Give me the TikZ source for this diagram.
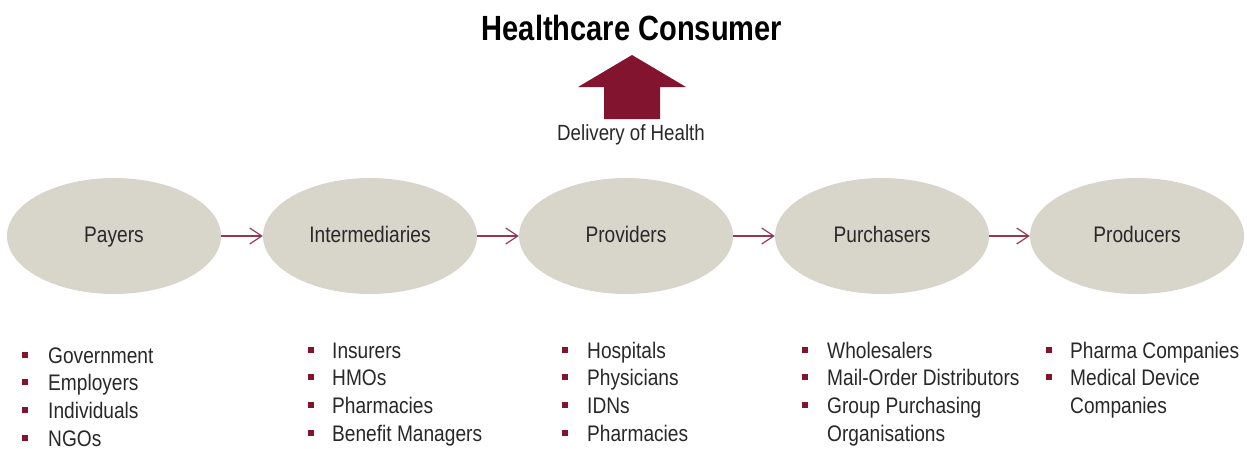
\documentclass[tikz,border=0pt]{standalone}
\usepackage{fontspec}
\usepackage{graphicx}
\setmainfont{Liberation Sans}
\usetikzlibrary{arrows.meta,shapes.geometric}
\definecolor{maroon}{RGB}{130,20,48}
\definecolor{ellfill}{RGB}{216,214,203}
\definecolor{txt}{RGB}{40,40,40}
\newcommand\nx[1]{\scalebox{0.85}[1]{#1}}
\tikzset{
  stage/.style={ellipse, fill=ellfill, minimum width=214pt, minimum height=116pt,
    inner sep=0pt, text height=16pt, text depth=4pt,
    font=\fontsize{22.5}{27}\selectfont, text=txt},
  flow/.style={draw=maroon!85, line width=1.2pt,
    -{Straight Barb[length=12pt,width=16pt,line width=1.2pt]}},
  item/.style={anchor=base west, inner sep=0pt, font=\fontsize{22.5}{27}\selectfont, text=txt},
  bul/.style={fill=maroon, minimum size=6pt, inner sep=0pt}
}
\begin{document}
\begin{tikzpicture}[x=1pt,y=-1pt]
\useasboundingbox (0,0) rectangle (1247,448);

% title and big arrow
\node[anchor=base, inner sep=0pt, font=\fontsize{35}{40}\selectfont\bfseries] (title) at (632,40)
  {\scalebox{0.83}[1]{Healthcare Consumer}};
\fill[maroon] (578,87) -- (632,55) -- (686,87) -- (660,87) -- (660,119) -- (604,119) -- (604,87) -- cycle;
\node[anchor=base, inner sep=0pt, font=\fontsize{22}{26}\selectfont, text=txt] (deliv) at (631,140)
  {\nx{Delivery of Health}};

% stages
\node[stage] (pay) at (114,236) {\nx{Payers}};
\node[stage] (int) at (370,236) {\nx{Intermediaries}};
\node[stage] (pro) at (626,236) {\nx{Providers}};
\node[stage] (pur) at (882,236) {\nx{Purchasers}};
\node[stage] (prd) at (1137,236) {\nx{Producers}};

\draw[flow] (pay.east) -- (int.west);
\draw[flow] (int.east) -- (pro.west);
\draw[flow] (pro.east) -- (pur.west);
\draw[flow] (pur.east) -- (prd.west);

% lists
\foreach \t [count=\i] in {Government,Employers,Individuals,NGOs} {
  \node[bul] (payb\i) at (25,{363+(\i-1)*27.7-8.5}) {};
  \node[item] (payt\i) at (48,{363+(\i-1)*27.7}) {\nx{\t}};
}
\foreach \t [count=\i] in {Insurers,HMOs,Pharmacies,Benefit Managers} {
  \node[bul] (intb\i) at (311,{358+(\i-1)*27.7-8.5}) {};
  \node[item] (intt\i) at (332,{358+(\i-1)*27.7}) {\nx{\t}};
}
\foreach \t [count=\i] in {Hospitals,Physicians,IDNs,Pharmacies} {
  \node[bul] (prob\i) at (565,{358+(\i-1)*27.7-8.5}) {};
  \node[item] (prot\i) at (587,{358+(\i-1)*27.7}) {\nx{\t}};
}
\foreach \t [count=\i] in {Wholesalers,Mail-Order Distributors,Group Purchasing} {
  \node[bul] (purb\i) at (805,{358+(\i-1)*27.7-8.5}) {};
  \node[item] (purt\i) at (827,{358+(\i-1)*27.7}) {\nx{\t}};
}
\node[item] (purt4) at (827,{358+3*27.7}) {\nx{Organisations}};
\foreach \t [count=\i] in {Pharma Companies,Medical Device} {
  \node[bul] (prdb\i) at (1049,{358+(\i-1)*27.7-8.5}) {};
  \node[item] (prdt\i) at (1070,{358+(\i-1)*27.7}) {\nx{\t}};
}
\node[item] (prdt3) at (1070,{358+2*27.7}) {\nx{Companies}};
\end{tikzpicture}
\end{document}
